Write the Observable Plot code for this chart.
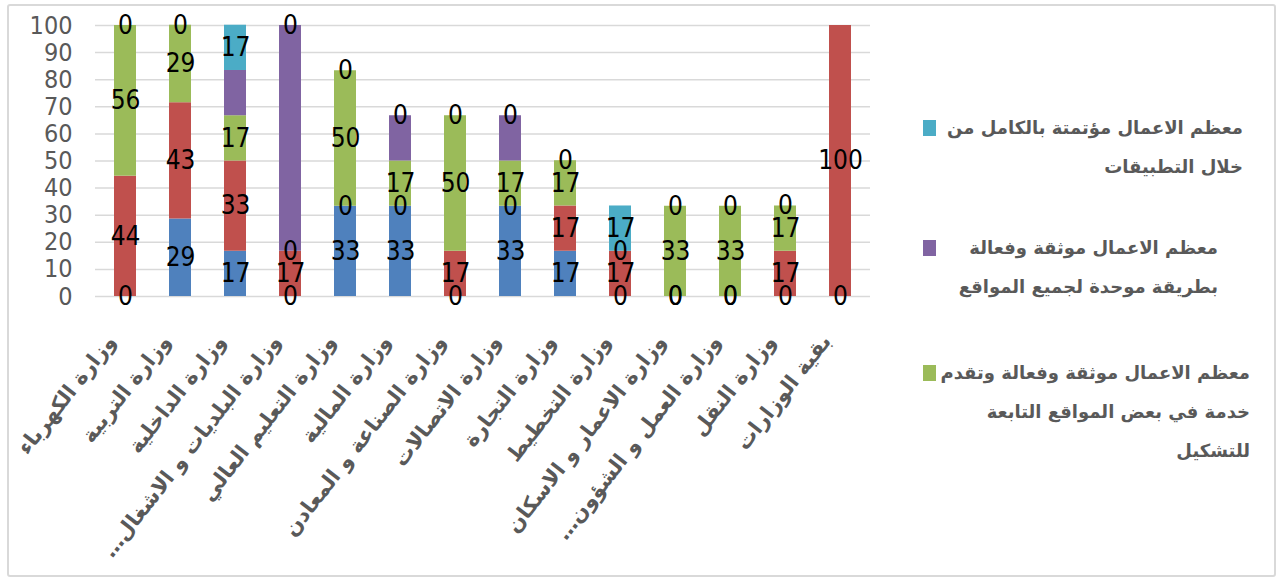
<!DOCTYPE html>
<html><head><meta charset="utf-8">
<script src="https://cdn.jsdelivr.net/npm/d3@7"></script>
<script src="https://cdn.jsdelivr.net/npm/@observablehq/plot@0.6"></script>
<style>
body{margin:0;background:#fff;}
#wrap{position:relative;width:1280px;height:579px;overflow:hidden;background:#fff;}
#frame{position:absolute;left:7px;top:4px;width:1269px;height:573px;border:2px solid #d9d9d9;border-radius:3px;box-sizing:border-box;pointer-events:none}
.leg{position:absolute;font-family:"DejaVu Sans",sans-serif;font-weight:bold;color:#595959;font-size:18px;line-height:39px;direction:rtl;text-align:right;white-space:nowrap}
.sw{position:absolute;width:13px;height:16px}
svg text{font-family:"Liberation Sans Narrow","DejaVu Sans Condensed",sans-serif}
g[aria-label="x-axis tick label"] text{font-family:"DejaVu Sans",sans-serif;font-weight:bold}
</style></head><body>
<div id="wrap"><div id="chart"></div><div id="frame"></div><div id="legend"></div></div>
<script>
const ministries = ["وزارة الكهرباء","وزارة التربية","وزارة الداخلية","وزارة البلديات و الاشغال…\u200F","وزارة التعليم العالي","وزارة المالية","وزارة الصناعة و المعادن","وزارة الاتصالات","وزارة التجارة","وزارة التخطيط","وزارة الاعمار و الاسكان","وزارة العمل و الشؤون…\u200F","وزارة النقل","بقية الوزارات"];
const seriesNames = ["s1","s2","s3","s4","s5"];
const seriesColors = ["#4F81BD","#C0504D","#9BBB59","#8064A2","#4BACC6"];
const s1 = [0, 28.6, 16.7, 0, 33.3, 33.3, 0, 33.3, 16.7, 0, 0, 0, 0, 0];
const s2 = [44.4, 42.9, 33.3, 16.7, 0, 0, 16.7, 0, 16.7, 16.7, 0, 0, 16.7, 100];
const s3 = [55.6, 28.6, 16.7, 0, 50, 16.7, 50, 16.7, 16.7, 0, 33.3, 33.3, 16.7, null];
const s4 = [0, 0, 16.7, 83.3, 0, 16.7, 0, 16.7, 0, 0, 0, 0, 0, null];
const s5 = [0, 0, 16.7, 0, 0, 0, 0, 0, 0, 16.7, 0, 0, 0, null];
const yTicks = [0,10,20,30,40,50,60,70,80,90,100];
const legendItems = [
  {series:"s5", lines:["معظم الاعمال مؤتمتة بالكامل من","خلال التطبيقات"]},
  {series:"s4", lines:["معظم الاعمال موثقة وفعالة","بطريقة موحدة لجميع المواقع"]},
  {series:"s3", lines:["معظم الاعمال موثقة وفعالة وتقدم","خدمة في بعض المواقع التابعة","للتشكيل"]}
];

const values = [s1, s2, s3, s4, s5];
const data = [];
ministries.forEach((m, i) => {
  seriesNames.forEach((s, j) => {
    const v = values[j][i];
    if (v != null) data.push({ministry: m, series: s, value: v});
  });
});

const chart = Plot.plot({
  width: 1280, height: 579,
  marginLeft: 95, marginRight: 410, marginTop: 25, marginBottom: 283,
  x: {domain: ministries, paddingInner: 0.6, paddingOuter: 0.3, axis: null},
  y: {domain: [0, 100], axis: null},
  color: {domain: seriesNames, range: seriesColors},
  style: {background: "transparent", overflow: "visible"},
  marks: [
    Plot.gridY(yTicks, {stroke: "#d9d9d9", strokeOpacity: 1, strokeWidth: 1.5}),
    Plot.axisY(yTicks, {tickSize: 0, tickPadding: 23, fontSize: 25, fill: "#595959", label: null}),
    Plot.barY(data, {x: "ministry", y: "value", fill: "series", order: seriesNames}),
    Plot.text(data, Plot.stackY({
      x: "ministry", y: "value", z: "series", order: seriesNames,
      text: d => d.series === "s4" ? null : String(Math.round(d.value)),
      fontSize: 26, fill: "black"
    })),
    Plot.axisX({tickRotate: -52, tickSize: 0, tickPadding: 41, dx: -14, fontSize: 21, fill: "#595959", label: null})
  ]
});
document.getElementById("chart").appendChild(chart);

const leg = document.getElementById("legend");
const legPos = [{top: 108, right: 37}, {top: 228, right: 62}, {top: 353, right: 30}];
legendItems.forEach((it, k) => {
  const p = legPos[k];
  const sw = document.createElement("div");
  sw.className = "sw";
  sw.style.background = seriesColors[seriesNames.indexOf(it.series)];
  sw.style.left = "923px";
  sw.style.top = (p.top + 12) + "px";
  leg.appendChild(sw);
  const t = document.createElement("div");
  t.className = "leg";
  t.style.right = p.right + "px";
  t.style.top = p.top + "px";
  t.innerHTML = it.lines.join("<br>");
  leg.appendChild(t);
});
</script>
</body></html>
